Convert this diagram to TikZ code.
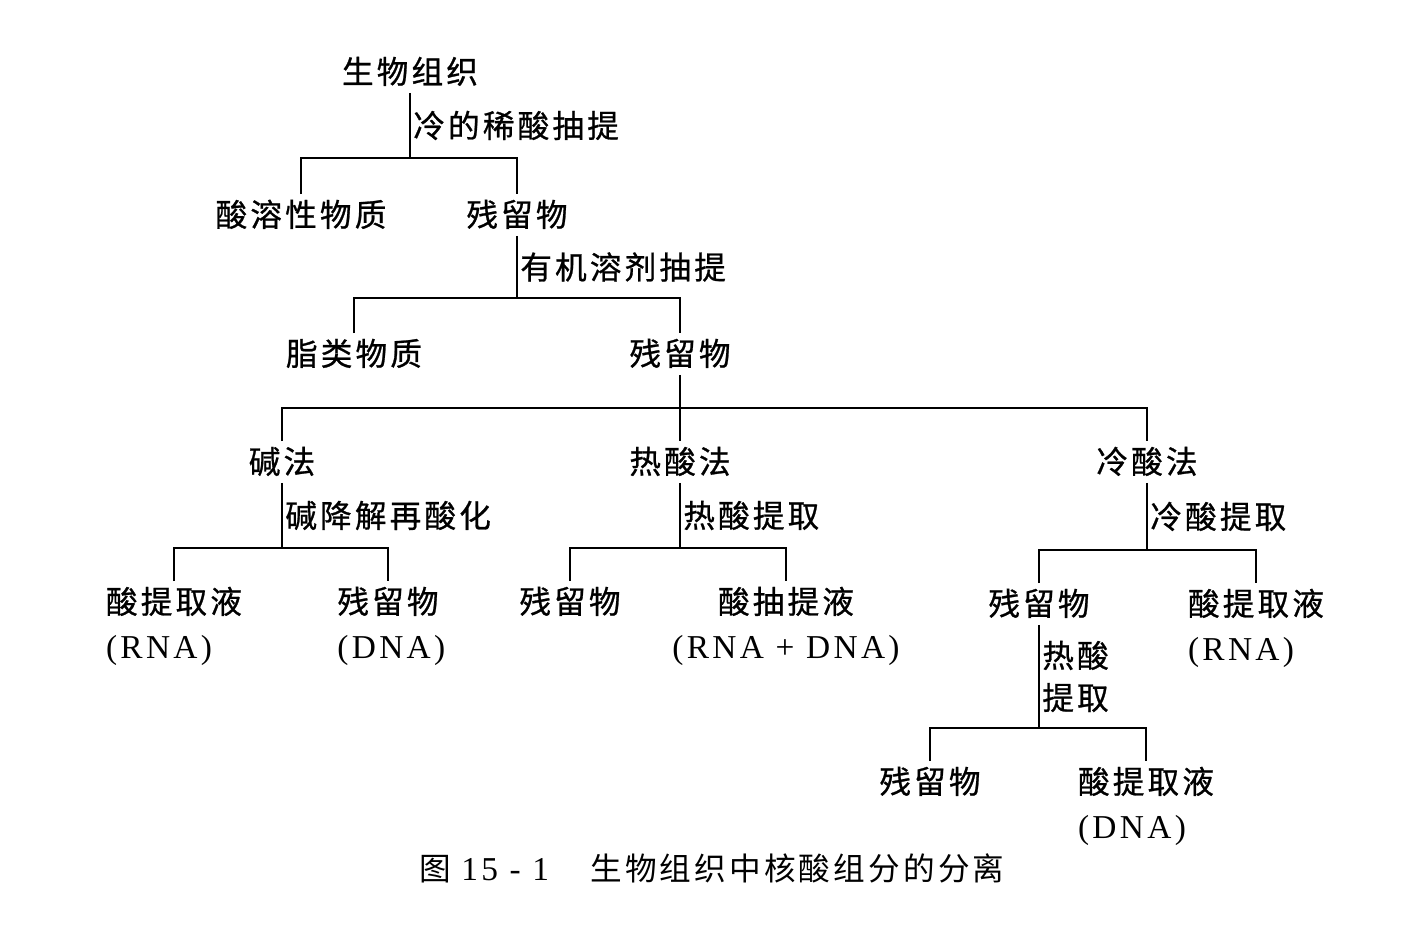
\documentclass[tikz,border=0pt]{standalone}
\usepackage{fontspec}
\setmainfont{Liberation Serif}
\newfontfamily\cjk[LetterSpace=10,FakeBold=0.8]{Noto Sans CJK SC}
\newfontfamily\cjkcap[LetterSpace=10]{Noto Sans CJK SC}
\newfontfamily\latinf[LetterSpace=10]{Liberation Serif}
\usetikzlibrary{positioning}

\begin{document}
\begin{tikzpicture}[x=0.02cm,y=-0.02cm,line width=0.8pt,
    base/.style={font=\cjk\fontsize{18}{24}\selectfont,inner xsep=0pt,inner ysep=3pt},
    item/.style={base,text height=15pt,text depth=2pt},
    sub/.style={item,font=\latinf\fontsize{19}{24}\selectfont},
    lab/.style={base,inner xsep=1.5pt,align=left}]
  \useasboundingbox (0,0) rectangle (1404,934);
  % upper part
  \node[item] (tissue) at (410,72) {生物组织};
  \node[item] (acidsol) at (301,215) {酸溶性物质};
  \node[item] (res1) at (517,215) {残留物};
  \node[item] (lipid) at (354,354) {脂类物质};
  \node[item] (res2) at (680,354) {残留物};
  % three methods
  \node[item] (alkali) at (282,462) {碱法};
  \node[item] (hotacid) at (680,462) {热酸法};
  \node[item] (coldacid) at (1147,462) {冷酸法};
  \node[item] (alkext) at (174,602) {酸提取液};
  \node[sub,below=2pt of alkext.south west,anchor=north west] (alkextn) {(RNA)};
  \node[item] (alkres) at (388,602) {残留物};
  \node[sub,below=2pt of alkres.south west,anchor=north west] (alkresn) {(DNA)};
  \node[item] (hotres) at (570,602) {残留物};
  \node[item] (hotext) at (786,602) {酸抽提液};
  \node[sub,below=2pt of hotext] (hotextn) {(RNA + DNA)};
  \node[item] (coldres) at (1039,604) {残留物};
  \node[item] (coldext) at (1256,604) {酸提取液};
  \node[sub,below=2pt of coldext.south west,anchor=north west] (coldextn) {(RNA)};
  \node[item] (finres) at (930,782) {残留物};
  \node[item] (finext) at (1146,782) {酸提取液};
  \node[sub,below=2pt of finext.south west,anchor=north west] (finextn) {(DNA)};
  \node[base,font=\cjkcap\fontsize{18}{24}\selectfont] (caption) at (712,868)
    {图 {\latinf\fontsize{19}{24}\selectfont 15\ -\ 1}\hspace{1.3em}生物组织中核酸组分的分离};

  % branches
  \coordinate (b1) at (410,158);
  \coordinate (b2) at (res1.south |- 0,298);
  \coordinate (b3) at (res2.south |- 0,408);
  \coordinate (b4) at (alkali.south |- 0,548);
  \coordinate (b5) at (hotacid.south |- 0,548);
  \coordinate (b6) at (coldacid.south |- 0,550);
  \coordinate (b7) at (coldres.south |- 0,728);
  \draw (tissue.south) -- (b1) node[lab,midway,right] {冷的稀酸抽提};
  \draw (acidsol.north) |- (b1) -| (res1.north);
  \draw (res1.south) -- (b2) node[lab,midway,right] {有机溶剂抽提};
  \draw (lipid.north) |- (b2) -| (res2.north);
  \draw (res2.south) -- (hotacid.north);
  \draw (alkali.north) |- (b3) -| (coldacid.north);
  \draw (alkali.south) -- (b4) node[lab,midway,right] {碱降解再酸化};
  \draw (alkext.north) |- (b4) -| (alkres.north);
  \draw (hotacid.south) -- (b5) node[lab,midway,right] {热酸提取};
  \draw (hotres.north) |- (b5) -| (hotext.north);
  \draw (coldacid.south) -- (b6) node[lab,midway,right] {冷酸提取};
  \draw (coldres.north) |- (b6) -| (coldext.north);
  \draw (coldres.south) -- (b7) node[lab,midway,right] {热酸\\提取};
  \draw (finres.north) |- (b7) -| (finext.north);
\end{tikzpicture}
\end{document}
